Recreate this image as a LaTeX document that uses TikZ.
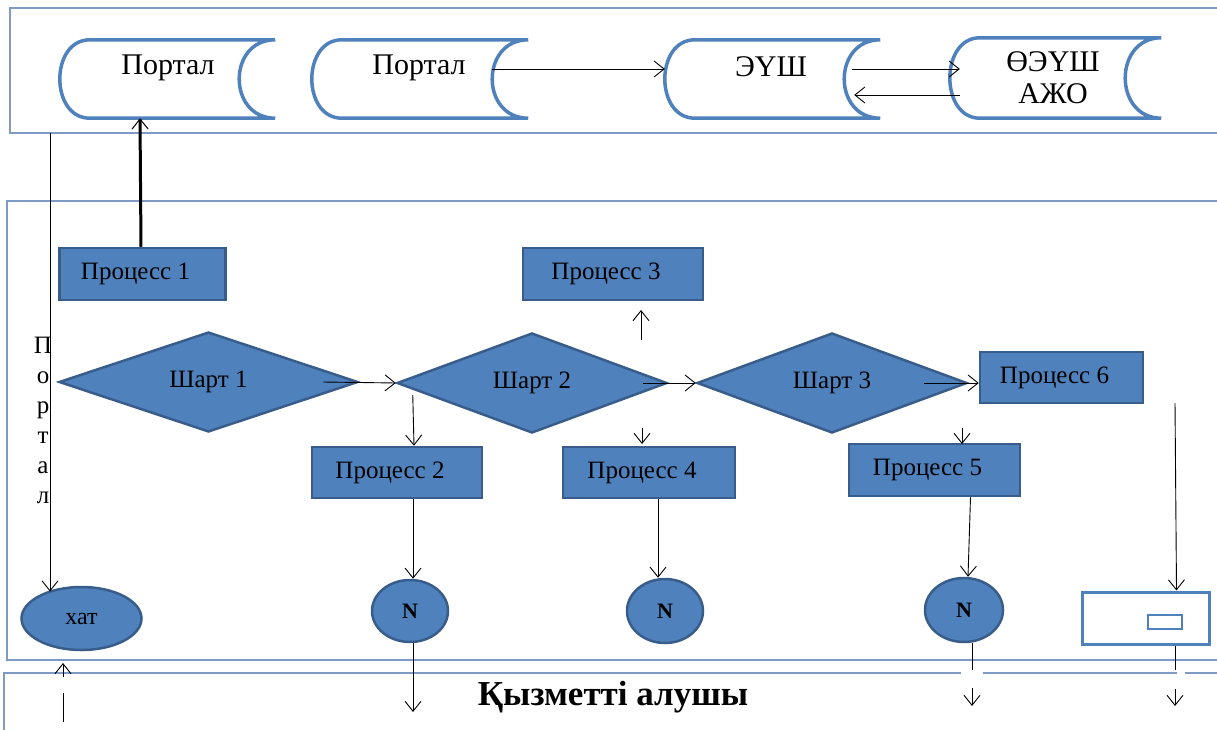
\documentclass[tikz,border=0pt]{standalone}
\usepackage{fontspec}
\setmainfont{Liberation Serif}
\usetikzlibrary{shapes.geometric,arrows.meta,calc}
\definecolor{wblue}{HTML}{4F81BD}
\definecolor{wdark}{HTML}{385D8A}
\definecolor{lane}{HTML}{7F9AC4}

\begin{document}
\begin{tikzpicture}[x=1pt,y=-1pt,
  font=\fontsize{25}{30}\selectfont,
  proc/.style={draw=wdark,fill=wblue,line width=2.5pt,rectangle,inner sep=0pt,
    execute at end node={\hspace*{14pt}}},
  cond/.style={draw=wdark,fill=wblue,line width=2.5pt,diamond,inner sep=0pt},
  term/.style={draw=wdark,fill=wblue,line width=2.5pt,ellipse,inner sep=0pt},
  nmark/.style={term,font=\bfseries\fontsize{22}{26}\selectfont},
  lanebox/.style={draw=lane,line width=1.3pt},
  flow/.style={line width=0.9pt,-{Straight Barb[length=10pt,width=16pt]}},
  flowline/.style={line width=0.9pt},
  store/.style={rectangle,inner sep=0pt},
  storeline/.style={draw=wblue,line width=3.5pt,fill=white},
  big/.style={font=\fontsize{30}{34}\selectfont},
]
\useasboundingbox (0,0) rectangle (1217,730);

% swimlanes
\draw[lanebox] (10,8) rectangle (1240,133);
\draw[lanebox] (7,201) rectangle (1240,660);
\draw[lanebox] (4,673) rectangle (1240,760);
\fill[white] (961,670) rectangle (983,677);
\fill[white] (1177,670) rectangle (1185,677);

% stored-data shapes in the top lane
\foreach \n/\cx/\cy/\w/\h in {p1/167.5/79/215/78, p2/420/79/216/78,
    eush/772.5/79/215/78, oe/1055.5/78/211/80}{
  \node[store,minimum width=\w pt,minimum height=\h pt] (\n) at (\cx,\cy) {};
  \draw[storeline] ($(\n.north west)+(30,0)$) -- (\n.north east)
    .. controls ($(\n.north east)+(-48,0)$) and ($(\n.south east)+(-48,0)$) .. (\n.south east)
    -- ($(\n.south west)+(30,0)$)
    .. controls ($(\n.south west)+(-10,0)$) and ($(\n.north west)+(-10,0)$) .. cycle;
}
\node[big] (p1t) at (168,68) {Портал};
\node[big] (p2t) at (419,68) {Портал};
\node[big] (eusht) at (771,67) {ЭҮШ};
\node[big] (oet1) at (1053,62) {ӨЭҮШ};
\node[big] (oet2) at (1053,94) {АЖО};

\draw[flow] ($(p2.east)+(-36,-10)$) -- ($(eush.west)+(0,-10)$);
\draw[flow] ($(eush.east)+(-28,-10)$) -- ($(oe.west)+(10,-9)$);
\draw[flow] ($(oe.west)+(10,17)$) -- ($(eush.east)+(-26,16)$);

% process lane
\node[proc,minimum width=166pt,minimum height=52pt] (pr1) at (142.5,274) {Процесс 1};
\node[proc,minimum width=180pt,minimum height=52pt] (pr3) at (613,274) {Процесс 3};
\node[proc,minimum width=170pt,minimum height=51pt] (pr2) at (397,472.5) {Процесс 2};
\node[proc,minimum width=172pt,minimum height=51pt] (pr4) at (649,472.5) {Процесс 4};
\node[proc,minimum width=171pt,minimum height=52pt] (pr5) at (934.5,470) {Процесс 5};
\node[proc,minimum width=163pt,minimum height=51pt] (pr6) at (1061.5,377.5) {Процесс 6};

\node[cond,minimum width=299pt,minimum height=90pt] (s1) at (208.5,382) {Шарт 1};
\node[cond,minimum width=270pt,minimum height=90pt] (s2) at (532,383) {Шарт 2};
\node[cond,minimum width=270pt,minimum height=90pt] (s3) at (832,383) {Шарт 3};

\node[term,minimum width=120pt,minimum height=63pt,font=\fontsize{24}{28}\selectfont] (xat) at (81.5,618.5) {хат};
\node[nmark,minimum width=76pt,minimum height=62pt] (n1) at (410,611) {N};
\node[nmark,minimum width=76pt,minimum height=64pt] (n2) at (665,611) {N};
\node[nmark,minimum width=78pt,minimum height=64pt] (n3) at (964,610) {N};

\node[draw=wblue,line width=3pt,fill=white,minimum width=127pt,minimum height=52pt] (dev) at (1145.5,618) {};
\node[draw=wblue,line width=2.5pt,minimum width=34pt,minimum height=14pt,inner sep=0pt] (devslot) at (1165,622) {};

% vertical caption of the portal line
\foreach \ch [count=\i] in {П,о,р,т,а,л}
  \node[anchor=base,font=\fontsize{25}{28}\selectfont] (vl\i) at (43,353+30*\i-30) {\ch};

% connectors
\coordinate (ptop) at (50,133);
\draw[flow] (ptop) -- ($(xat.center)+(-31.5,-27)$);
\draw[line width=3pt,-{Straight Barb[length=10pt,width=16pt,line width=1pt]}] ($(pr1.north)+(-1.5,0)$) -- ($(p1.south)+(-27.5,0)$);

\draw[flow] ($(s1.east)+(-36,0)$) -- (s2.west);
\draw[flow] ($(s2.east)+(-25,0)$) -- (s3.west);
\draw[flow] ($(s3.east)+(-44,0)$) -- (s3.east -| pr6.west);
\draw[flow] ($(s2.west)+(17,12)$) -- ($(pr2.north)+(17,0)$);

\coordinate (u1) at (641,340); \coordinate (u2) at (641,310);
\draw[flow] (u1) -- (u2);
\coordinate (d4a) at (642,428); \coordinate (d4b) at (642,444);
\draw[flow] (d4a) -- (d4b);
\coordinate (d5a) at (962,428); \coordinate (d5b) at (962,444);
\draw[flow] (d5a) -- (d5b);

\draw[flow] ($(pr2.south)+(16,0)$) -- ($(n1.north)+(3,0)$);
\draw[flow] ($(pr4.south)+(9,0)$) -- ($(n2.north)+(-7,0)$);
\draw[flow] ($(pr5.south)+(36,0)$) -- ($(n3.north)+(4,0)$);
\coordinate (dv0) at (1175,403);
\draw[flow] (dv0) -- ($(dev.north)+(31,0)$);

% exits to the client lane
\coordinate (b1) at (413,712);
\draw[flow] ($(n1.south)+(3,0)$) -- (b1);
\coordinate (b3a) at (972,670); \coordinate (b3b) at (972,688); \coordinate (b3c) at (972,706);
\draw[flowline] ($(n3.south)+(8,0)$) -- (b3a);
\draw[flow] (b3b) -- (b3c);
\coordinate (b4a) at (1175,670); \coordinate (b4b) at (1175,689); \coordinate (b4c) at (1175,706);
\draw[flowline] ($(dev.south)+(29.5,0)$) -- (b4a);
\draw[flow] (b4b) -- (b4c);
\coordinate (x1) at (63,722); \coordinate (x2) at (63,693);
\coordinate (x3) at (63,677); \coordinate (x4) at (63,663);
\draw[flowline] (x1) -- (x2);
\draw[flow] (x3) -- (x4);

\node[font=\bfseries\fontsize{35}{40}\selectfont] (client) at (613,697) {Қызметті алушы};
\end{tikzpicture}
\end{document}
